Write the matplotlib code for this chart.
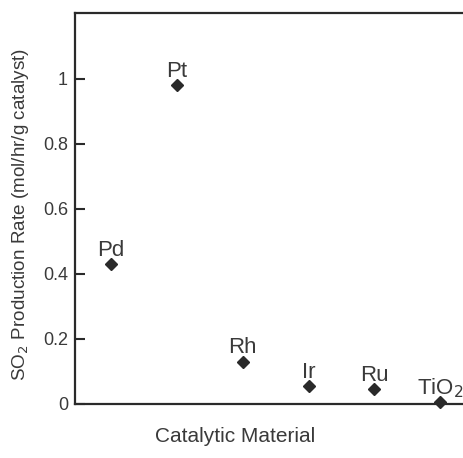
import matplotlib.pyplot as plt

plt.rcParams["font.family"] = ["Liberation Sans", "DejaVu Sans"]

# data
materials = ["Pd", "Pt", "Rh", "Ir", "Ru", "TiO$_2$"]
rates = [0.43, 0.98, 0.13, 0.055, 0.045, 0.005]
yticks = [0, 0.2, 0.4, 0.6, 0.8, 1.0]
ytick_labels = ["0", "0.2", "0.4", "0.6", "0.8", "1"]

txt = "#3a3a3a"
dark = "#2a2a2a"

fig = plt.figure(figsize=(4.64, 4.58), dpi=100)
ax = fig.add_axes([75 / 464, 54 / 458, 398 / 464, 391 / 458])

xs = list(range(1, len(materials) + 1))
ax.plot(xs, rates, linestyle="none", marker="D", markersize=6,
        color=dark, clip_on=False, zorder=3)

for x, y, name in zip(xs, rates, materials):
    ax.annotate(name, (x, y), xytext=(0, 6), textcoords="offset points",
                ha="center", va="baseline", fontsize=16, color=txt)

ax.set_xlim(0.45, 6.5)
ax.set_ylim(0, 1.203)
ax.set_xticks([])
ax.set_yticks(yticks)
ax.set_yticklabels(ytick_labels)
ax.tick_params(axis="y", direction="in", length=7, width=1.5, color=dark,
               labelsize=13, labelcolor=txt, pad=5, right=True)

for s in ax.spines.values():
    s.set_linewidth(1.6)
    s.set_color(dark)

fig.text(21 / 464, 1 - 214 / 458,
         "SO$_2$ Production Rate (mol/hr/g catalyst)", rotation=90,
         ha="center", va="center", fontsize=13.6, color=txt)
fig.text(235 / 464, 1 - 436 / 458, "Catalytic Material", ha="center",
         va="center", fontsize=15, color=txt)

fig.savefig("out.png", dpi=100, facecolor="white")
